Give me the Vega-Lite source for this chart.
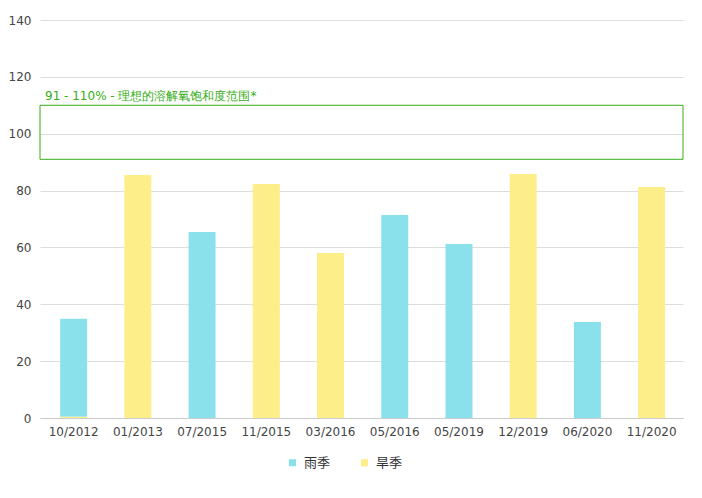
{
  "$schema": "https://vega.github.io/schema/vega-lite/v6.json",
  "autosize": {"type": "none"},
  "padding": {"left": 40, "top": 20, "right": 19, "bottom": 80},
  "width": 643,
  "height": 398,
  "datasets": {
    "bars": [
      {"date": "10/2012", "season": "雨季", "value": 34.5},
      {"date": "10/2012", "season": "旱季", "value": 0.4},
      {"date": "01/2013", "season": "旱季", "value": 85.5},
      {"date": "07/2015", "season": "雨季", "value": 65.4},
      {"date": "11/2015", "season": "旱季", "value": 82.3},
      {"date": "03/2016", "season": "旱季", "value": 58.0},
      {"date": "05/2016", "season": "雨季", "value": 71.4},
      {"date": "05/2019", "season": "雨季", "value": 61.2},
      {"date": "12/2019", "season": "旱季", "value": 85.8},
      {"date": "06/2020", "season": "雨季", "value": 33.8},
      {"date": "11/2020", "season": "旱季", "value": 81.3}
    ],
    "range": [
      {"lo": 91, "hi": 110, "label": "91 - 110% - 理想的溶解氧饱和度范围*"}
    ]
  },
  "layer": [
    {
      "data": {"name": "bars"},
      "mark": {"type": "bar"},
      "encoding": {
        "x": {
          "field": "date",
          "type": "nominal",
          "sort": null,
          "scale": {"paddingInner": 0.58, "paddingOuter": 0.296, "align": 0.53},
          "axis": {
            "title": null,
            "labelAngle": 0,
            "ticks": false,
            "labelPadding": 8,
            "domainColor": "#cccccc",
            "grid": false
          }
        },
        "y": {
          "field": "value",
          "type": "quantitative",
          "stack": "zero",
          "scale": {"domain": [0, 140]},
          "axis": {
            "title": null,
            "values": [0, 20, 40, 60, 80, 100, 120, 140],
            "domain": false,
            "ticks": false,
            "labelPadding": 9,
            "gridColor": "#dddddd"
          }
        },
        "color": {
          "field": "season",
          "type": "nominal",
          "scale": {"domain": ["雨季", "旱季"], "range": ["#8ae1ec", "#fdee89"]},
          "legend": {
            "title": null,
            "orient": "none",
            "direction": "horizontal",
            "legendX": 246,
            "legendY": 436,
            "symbolType": "square",
            "symbolSize": 50,
            "symbolStrokeWidth": 0,
            "labelFontSize": 13,
            "labelColor": "#333333",
            "columnPadding": 27,
            "labelOffset": 5
          }
        },
        "order": {"field": "season", "sort": "ascending"}
      }
    },
    {
      "data": {"name": "range"},
      "mark": {"type": "rect", "fill": null, "fillOpacity": 0, "stroke": "#36ad14", "strokeWidth": 1},
      "encoding": {
        "y": {"field": "hi", "type": "quantitative"},
        "y2": {"field": "lo"}
      }
    },
    {
      "data": {"name": "range"},
      "mark": {"type": "text", "align": "left", "baseline": "bottom", "dx": 5, "dy": -2, "color": "#36ad14", "fontSize": 12},
      "encoding": {
        "x": {"value": 0},
        "y": {"field": "hi", "type": "quantitative"},
        "text": {"field": "label"}
      }
    }
  ],
  "config": {
    "view": {"stroke": null},
    "font": "DejaVu Sans",
    "axis": {"labelFont": "DejaVu Sans", "labelFontSize": 12, "labelColor": "#444444"},
    "legend": {"labelFont": "Noto Sans CJK SC"}
  }
}
